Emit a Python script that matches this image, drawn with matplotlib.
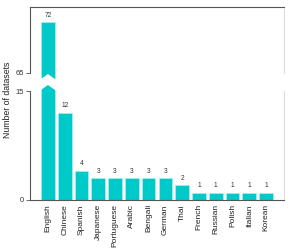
import matplotlib
matplotlib.use("Agg")
import matplotlib.pyplot as plt
import matplotlib.transforms as mtransforms
from matplotlib.patches import Polygon

plt.rcParams['font.family'] = ['Liberation Sans', 'DejaVu Sans']

languages = ["English", "Chinese", "Spanish", "Japanese", "Portuguese", "Arabic",
             "Bengali", "German", "Thai", "French", "Russian", "Polish", "Italian", "Korean"]
counts = [72, 12, 4, 3, 3, 3, 3, 3, 2, 1, 1, 1, 1, 1]

bar_color = "#00c9c9"
dark = "#555555"
light = "#dddddd"

W, H = 291, 248
fig = plt.figure(figsize=(W / 100, H / 100), dpi=100)
left, right = 30 / W, 284 / W
ax_top = fig.add_axes([left, 1 - 80 / H, right - left, 73 / H])
ax_bot = fig.add_axes([left, 1 - 200 / H, right - left, 115 / H])

x = list(range(len(languages)))
for ax in (ax_top, ax_bot):
    ax.bar(x, counts, width=0.82, color=bar_color, edgecolor="#aaeeee", linewidth=0.5)
    ax.set_xlim(-1.07, len(languages) - 1 + 1.07)
    ax.spines['left'].set_color(dark)
    ax.spines['right'].set_color(light)
    ax.tick_params(axis='y', length=3, width=0.6, color=dark, labelsize=5.5,
                   labelcolor="#333333", pad=1.5)

# upper part
ax_top.set_ylim(64, 74.1)
ax_top.set_yticks([65])
ax_top.spines['bottom'].set_visible(False)
ax_top.spines['top'].set_color(dark)
ax_top.spines['left'].set_bounds(65, 74.1)
ax_top.spines['right'].set_bounds(65, 74.1)
ax_top.set_xticks([])

# lower part
ax_bot.set_ylim(0, 15.83)
ax_bot.set_yticks([0, 15])
ax_bot.spines['top'].set_visible(False)
ax_bot.spines['bottom'].set_color(dark)
ax_bot.spines['left'].set_bounds(0, 15)
ax_bot.spines['right'].set_bounds(0, 15)
ax_bot.set_xticks(x)
ax_bot.set_xticklabels(languages, rotation=90, fontsize=6.0, color="#222222")
ax_bot.tick_params(axis='x', length=0, pad=3)

# value labels
for xi, c in zip(x, counts):
    ax = ax_top if c > 15 else ax_bot
    ax.annotate(str(c), (xi, c), xytext=(0, 2.5), textcoords="offset points",
                ha="center", va="bottom", fontsize=4.8, color="#333333")

# white chevron across the broken bar
tr = mtransforms.blended_transform_factory(ax_bot.transData, fig.transFigure)
x0, x1 = -0.5, 0.5
xc = 0
pts = [(x0, 1 - 80 / H), (xc, 1 - 74 / H), (x1, 1 - 80 / H),
       (x1, 1 - 91 / H), (xc, 1 - 85 / H), (x0, 1 - 91 / H)]
fig.add_artist(Polygon(pts, closed=True, facecolor="white", edgecolor="none",
                       transform=tr, zorder=5))

fig.text(8 / W, 1 - 100 / H, "Number of datasets", rotation=90, ha="center",
         va="center", fontsize=6.3, color="#222222")

fig.savefig("out.png", dpi=100)
